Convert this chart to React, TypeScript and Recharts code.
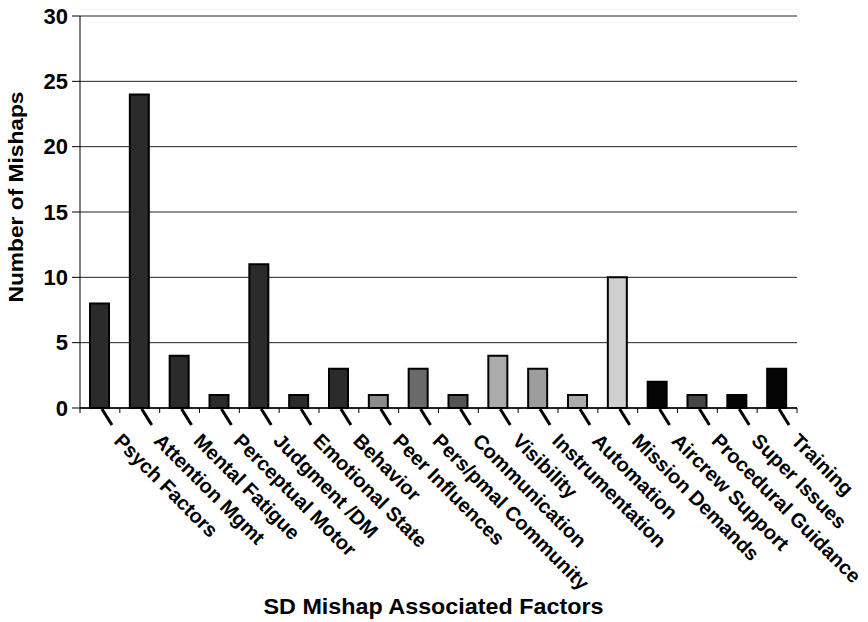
import { BarChart, Bar, XAxis, YAxis, CartesianGrid, Cell, Label } from 'recharts';

const factors = [
  'Psych Factors', 'Attention Mgmt', 'Mental Fatigue', 'Perceptual Motor', 'Judgment /DM',
  'Emotional State', 'Behavior', 'Peer Influences', 'Pers/pmal Community', 'Communication',
  'Visibility', 'Instrumentation', 'Automation', 'Mission Demands', 'Aircrew Support',
  'Procedural Guidance', 'Super Issues', 'Training',
];
const mishaps = [8, 24, 4, 1, 11, 1, 3, 1, 3, 1, 4, 3, 1, 10, 2, 1, 1, 3];
const barFills = [
  '#2b2b2b', '#2b2b2b', '#2b2b2b', '#2b2b2b', '#2b2b2b', '#2b2b2b', '#2b2b2b',
  '#8c8c8c', '#6a6a6a', '#555555', '#ababab', '#9d9d9d', '#ababab', '#cfcfcf',
  '#050505', '#474747', '#050505', '#050505',
];
const yTicks = [0, 5, 10, 15, 20, 25, 30];

const data = factors.map((name, i) => ({ name, mishaps: mishaps[i], fill: barFills[i] }));

const W = 868;
const H = 622;
const PLOT_LEFT = 80;
const PLOT_RIGHT = 797;
const STEP = (PLOT_RIGHT - PLOT_LEFT) / factors.length;
const FONT = '"Liberation Sans", Arial, Helvetica, sans-serif';

// slanted category label with its leader stroke and the boundary ticks
function FactorTick(props: any) {
  const { x, y, payload, index } = props;
  const tx = x + 13;
  const ty = y + 34;
  return (
    <g>
      <line x1={x - STEP / 2} y1={y} x2={x - STEP / 2} y2={y + 5} stroke="#000" strokeWidth={1} />
      {index === factors.length - 1 && (
        <line x1={x + STEP / 2} y1={y} x2={x + STEP / 2} y2={y + 5} stroke="#000" strokeWidth={1} />
      )}
      <line x1={x + 2} y1={y + 1} x2={x + 12} y2={y + 17} stroke="#000" strokeWidth={3} />
      <text x={tx} y={ty} transform={`rotate(45, ${tx}, ${ty})`} textAnchor="start"
        fontFamily={FONT} fontWeight="bold" fontSize={20} fill="#000">
        {payload.value}
      </text>
    </g>
  );
}

export default function App() {
  return (
    <div style={{ position: 'absolute', left: 0, top: 0, width: W, height: H, background: '#fff' }}>
      <BarChart width={W} height={H} data={data}
        margin={{ top: 16, right: W - PLOT_RIGHT, bottom: 0, left: 0 }}>
        <CartesianGrid vertical={false} stroke="#222" strokeWidth={1} />
        <XAxis dataKey="name" type="category" height={214} interval={0}
          axisLine={{ stroke: '#000', strokeWidth: 1.5 }} tickLine={false} tickSize={0} tickMargin={0}
          tick={<FactorTick />}>
          <Label content={({ viewBox }: any) => (
            <text x={viewBox.x + viewBox.width / 2 - 5} y={viewBox.y + 206} textAnchor="middle"
              textLength={340} lengthAdjust="spacingAndGlyphs"
              fontFamily={FONT} fontWeight="bold" fontSize={22} fill="#000">
              SD Mishap Associated Factors
            </text>
          )} />
        </XAxis>
        <YAxis type="number" domain={[0, 30]} ticks={yTicks} width={PLOT_LEFT} interval={0}
          axisLine={{ stroke: '#000', strokeWidth: 1 }} tickLine={{ stroke: '#000' }}
          tickSize={8} tickMargin={4}
          tick={{ fontFamily: FONT, fontWeight: 'bold', fontSize: 22, fill: '#000' }}>
          <Label content={({ viewBox }: any) => {
            const cx = 23;
            const cy = viewBox.y + viewBox.height / 2 - 15;
            return (
              <text x={cx} y={cy} transform={`rotate(-90, ${cx}, ${cy})`} textAnchor="middle"
                textLength={211} lengthAdjust="spacingAndGlyphs"
                fontFamily={FONT} fontWeight="bold" fontSize={20} fill="#000">
                Number of Mishaps
              </text>
            );
          }} />
        </YAxis>
        <Bar dataKey="mishaps" barSize={19} stroke="#000" strokeWidth={2} isAnimationActive={false}>
          {data.map((d) => (
            <Cell key={d.name} fill={d.fill} />
          ))}
        </Bar>
      </BarChart>
    </div>
  );
}
